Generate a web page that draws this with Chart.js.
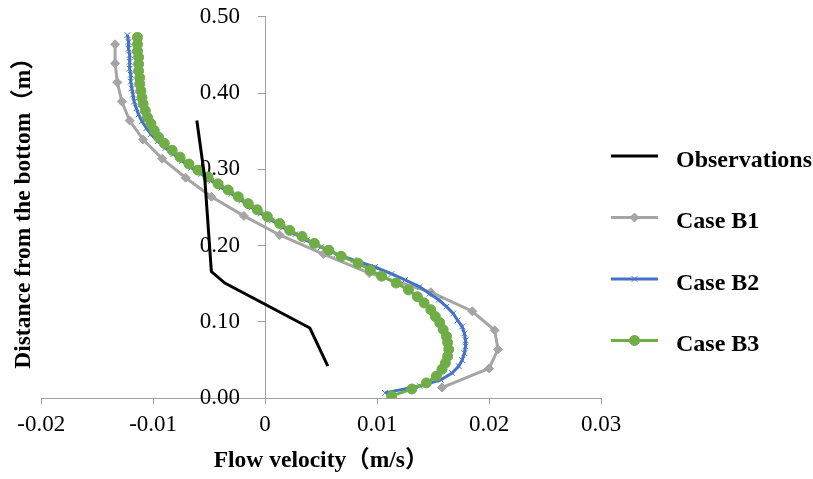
<!DOCTYPE html>
<html>
<head>
<meta charset="utf-8">
<script src="https://cdn.jsdelivr.net/npm/chart.js@4.4.1/dist/chart.umd.min.js"></script>
<style>
  html, body { margin: 0; padding: 0; background: #fff; }
  #wrap { width: 813px; height: 479px; }
</style>
</head>
<body>
<div id="wrap"><canvas id="chart" width="813" height="479"></canvas></div>
<script>
const seriesNames = ['Observations', 'Case B1', 'Case B2', 'Case B3']

// observations (velocity m/s, height m)
const obsVel = [0.0056, 0.0040, -0.0036, -0.0048, -0.0054, -0.0061]
const obsDepth = [0.042, 0.092, 0.151, 0.166, 0.290, 0.364]

// case B1
const b1Vel = [0.0158, 0.0200, 0.0208, 0.0205, 0.0185, 0.0148, 0.0093, 0.0052, 0.0013, -0.0019,
    -0.0048, -0.0071, -0.0092, -0.0109, -0.0121, -0.0128, -0.0132, -0.0134, -0.0134]
const b1Depth = [0.014, 0.039, 0.064, 0.089, 0.114, 0.139, 0.164, 0.189, 0.214, 0.239,
    0.264, 0.289, 0.314, 0.339, 0.364, 0.389, 0.414, 0.439, 0.464]

// case B2
const b2Vel = [0.0107, 0.0138, 0.0157, 0.0167, 0.0173, 0.0176, 0.0178, 0.0179, 0.0179, 0.0178,
    0.0176, 0.0172, 0.0168, 0.0162, 0.0155, 0.0147, 0.0138, 0.0125, 0.0113, 0.0098,
    0.0079, 0.0064, 0.0050, 0.0037, 0.0027, 0.0016, 0.0006, -0.0004, -0.0012, -0.0021,
    -0.0030, -0.0039, -0.0048, -0.0057, -0.0066, -0.0074, -0.0082, -0.0089, -0.0096, -0.0102,
    -0.0106, -0.0110, -0.0113, -0.0115, -0.0117, -0.0118, -0.0119, -0.0120, -0.0120, -0.0121,
    -0.0121, -0.0121, -0.0122, -0.0122, -0.0123]
const b2Depth = [0.007, 0.016, 0.024, 0.033, 0.042, 0.050, 0.059, 0.068, 0.076, 0.085,
    0.094, 0.102, 0.111, 0.120, 0.129, 0.137, 0.146, 0.155, 0.163, 0.172,
    0.181, 0.189, 0.198, 0.207, 0.215, 0.224, 0.233, 0.242, 0.250, 0.259,
    0.268, 0.276, 0.285, 0.294, 0.302, 0.311, 0.320, 0.328, 0.337, 0.346,
    0.354, 0.363, 0.372, 0.380, 0.389, 0.398, 0.406, 0.415, 0.424, 0.432,
    0.441, 0.450, 0.458, 0.467, 0.476]

// case B3
const b3Vel = [0.0113, 0.0131, 0.0144, 0.0153, 0.0158, 0.0161, 0.0163, 0.0164, 0.0163, 0.0162,
    0.0159, 0.0156, 0.0152, 0.0148, 0.0142, 0.0136, 0.0128, 0.0117, 0.0104, 0.0094,
    0.0083, 0.0068, 0.0057, 0.0044, 0.0033, 0.0022, 0.0013, 0.0002, -0.0007, -0.0015,
    -0.0024, -0.0033, -0.0042, -0.0051, -0.0060, -0.0068, -0.0076, -0.0083, -0.0090, -0.0095,
    -0.0099, -0.0102, -0.0105, -0.0107, -0.0109, -0.0110, -0.0111, -0.0112, -0.0112, -0.0113,
    -0.0113, -0.0113, -0.0114, -0.0114, -0.0114]
const b3Depth = [0.003, 0.012, 0.020, 0.029, 0.038, 0.046, 0.055, 0.064, 0.073, 0.081,
    0.090, 0.099, 0.107, 0.116, 0.125, 0.133, 0.142, 0.151, 0.160, 0.168,
    0.177, 0.186, 0.194, 0.203, 0.212, 0.220, 0.229, 0.238, 0.247, 0.255,
    0.264, 0.273, 0.281, 0.290, 0.299, 0.307, 0.316, 0.325, 0.334, 0.342,
    0.351, 0.360, 0.368, 0.377, 0.386, 0.394, 0.403, 0.412, 0.420, 0.429,
    0.438, 0.447, 0.455, 0.464, 0.473]

const serif = "'Liberation Serif', 'Times New Roman', 'Noto Sans CJK SC', serif"
const axisGrey = '#a0a0a0'

function pairs(xs, ys) {
    return xs.map((v, i) => ({x: v, y: ys[i]}))
}

// legend at the right: short line with the marker, then the name
const sideLegend = {
    id: 'sideLegend',
    afterDraw(chart) {
        const ctx = chart.ctx
        const x0 = chart.chartArea.right + 10
        chart.data.datasets.forEach((ds, i) => {
            const y = 156 + i * 61.5
            ctx.save()
            ctx.strokeStyle = ds.borderColor
            ctx.lineWidth = ds.borderWidth
            ctx.beginPath()
            ctx.moveTo(x0, y)
            ctx.lineTo(x0 + 47, y)
            ctx.stroke()
            if (ds.pointRadius > 0) {
                ctx.fillStyle = ds.pointBackgroundColor
                ctx.strokeStyle = ds.pointBorderColor
                ctx.lineWidth = ds.pointBorderWidth
                Chart.helpers.drawPoint(ctx, {
                    pointStyle: ds.pointStyle,
                    radius: ds.pointRadius,
                    borderWidth: ds.pointBorderWidth,
                    rotation: 0
                }, x0 + 23.5, y)
            }
            ctx.fillStyle = '#000'
            ctx.font = 'bold 24px ' + serif
            ctx.textBaseline = 'alphabetic'
            ctx.textAlign = 'left'
            ctx.fillText(ds.label, x0 + 65, y + 10.5)
            ctx.restore()
        })
    }
}

Chart.defaults.font.family = serif
Chart.defaults.color = '#000'

const chart = new Chart(document.getElementById('chart'), {
    type: 'line',
    data: {
        datasets: [{
            label: seriesNames[0],
            data: pairs(obsVel, obsDepth),
            borderColor: '#000000',
            borderWidth: 3,
            pointRadius: 0,
            order: 0
        }, {
            label: seriesNames[1],
            data: pairs(b1Vel, b1Depth),
            borderColor: '#a5a5a5',
            borderWidth: 3,
            pointStyle: 'rectRot',
            pointRadius: 4.5,
            pointBackgroundColor: '#a5a5a5',
            pointBorderColor: '#a5a5a5',
            pointBorderWidth: 1,
            order: 3
        }, {
            label: seriesNames[2],
            data: pairs(b2Vel, b2Depth),
            borderColor: '#4472c4',
            borderWidth: 3,
            pointStyle: 'crossRot',
            pointRadius: 4,
            pointBackgroundColor: '#4472c4',
            pointBorderColor: '#4472c4',
            pointBorderWidth: 1,
            order: 2
        }, {
            label: seriesNames[3],
            data: pairs(b3Vel, b3Depth),
            borderColor: '#70ad47',
            borderWidth: 3,
            pointStyle: 'circle',
            pointRadius: 5,
            pointBackgroundColor: '#70ad47',
            pointBorderColor: '#70ad47',
            pointBorderWidth: 1,
            order: 1
        }]
    },
    options: {
        responsive: false,
        animation: false,
        layout: {
            padding: {left: 7, right: 212, top: 0, bottom: 0}
        },
        plugins: {
            legend: {display: false},
            tooltip: {enabled: false}
        },
        elements: {
            line: {tension: 0}
        },
        scales: {
            x: {
                type: 'linear',
                position: 'bottom',
                min: -0.02,
                max: 0.03,
                ticks: {
                    stepSize: 0.01,
                    padding: 7,
                    font: {size: 23},
                    callback: (v) => String(Number(v.toFixed(2)))
                },
                grid: {drawOnChartArea: false, color: axisGrey, tickLength: 6},
                border: {color: axisGrey, width: 1},
                title: {
                    display: true,
                    text: 'Flow velocity（m/s）',
                    font: {size: 23.5, weight: 'bold'},
                    padding: {top: 1, bottom: 4}
                }
            },
            // axis line and tick marks, crossing at velocity 0
            y: {
                type: 'linear',
                position: {x: 0},
                min: 0,
                max: 0.5,
                ticks: {stepSize: 0.1, color: 'rgba(0,0,0,0)'},
                grid: {drawOnChartArea: false, color: axisGrey, tickLength: 7},
                border: {color: axisGrey, width: 1}
            },
            // the numbers of that axis, set a little to its left
            yLabels: {
                type: 'linear',
                position: {x: -0.00225},
                min: 0,
                max: 0.5,
                ticks: {
                    stepSize: 0.1,
                    font: {size: 23},
                    callback: (v) => v.toFixed(2)
                },
                grid: {display: false},
                border: {display: false}
            },
            yTitle: {
                type: 'linear',
                position: 'left',
                ticks: {display: false},
                grid: {display: false, drawTicks: false},
                border: {display: false},
                title: {
                    display: true,
                    text: 'Distance from the bottom（m）',
                    font: {size: 23.5, weight: 'bold'},
                    padding: {top: 3, bottom: 3}
                }
            }
        }
    },
    plugins: [sideLegend]
})
</script>
</body>
</html>
